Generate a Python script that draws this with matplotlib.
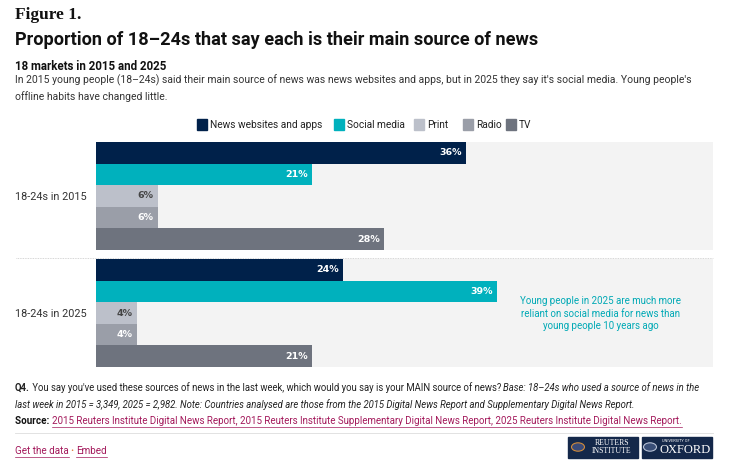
import matplotlib.pyplot as plt
from matplotlib.patches import Rectangle, Circle

plt.rcParams['font.family'] = ['Roboto', 'DejaVu Sans']

# data
groups = ['18-24s in 2015', '18-24s in 2025']
sources = ['News websites and apps', 'Social media', 'Print', 'Radio', 'TV']
values_2015 = [36, 21, 6, 6, 28]
values_2025 = [24, 39, 4, 4, 21]
colors = ['#00214a', '#00b1bd', '#bcc0ca', '#9a9ea8', '#6e737e']
label_colors = ['white', 'white', '#444444', 'white', 'white']
xmax = 60

fig = plt.figure(figsize=(7.32, 4.72), dpi=100)
W, H = 732, 472
renderer = fig.canvas.get_renderer()

def fx(px):
    return px / W

def fy(py):
    return 1 - py / H

def runs(x, y, parts, fontsize):
    # draw text pieces one after another on a line
    for txt, kw in parts:
        t = fig.text(fx(x), fy(y), txt, fontsize=fontsize, va='center', **kw)
        x += t.get_window_extent(renderer).width
    return x

ax = fig.add_axes([fx(96), fy(367), fx(713) - fx(96), fy(142) - fy(367)])

gap = 0.42
centers = []
for g, vals in enumerate([values_2015, values_2025]):
    start = g * (5 + gap)
    # grey band behind each group
    ax.barh(start + 2.5, xmax, height=5, left=0, color='#f3f3f3', zorder=0)
    for i, v in enumerate(vals):
        y = start + i + 0.5
        ax.barh(y, v, height=1.0, color=colors[i], zorder=2)
        ax.annotate(f'{v}%', (v, y), xytext=(-3, 0), textcoords='offset points',
                    ha='right', va='center', fontsize=6.8, fontweight='bold',
                    family='DejaVu Sans', color=label_colors[i], zorder=3)
    centers.append(start + 2.5)

ax.set_xlim(0, xmax)
ax.set_ylim(10 + gap, 0)
ax.set_yticks(centers)
ax.set_yticklabels(groups, fontsize=7.8, color='#333333')
ax.tick_params(axis='y', length=0, pad=7)
ax.set_xticks([])
for s in ax.spines.values():
    s.set_visible(False)

# dotted separator between groups
ax.plot([-7.8, xmax], [5 + gap * 0.9, 5 + gap * 0.9], ls=(0, (1, 1)), lw=0.6,
        color='#c8c8c8', clip_on=False)

ax.text(49.1, 7.95, 'Young people in 2025 are much more\nreliant on social media for news than\nyoung people 10 years ago',
        ha='center', va='center', fontsize=7, color='#00a9b5', linespacing=1.35)

# legend
lx = [197, 334, 414, 463, 506]
for i, name in enumerate(sources):
    fig.patches.append(Rectangle((fx(lx[i]), fy(130)), fx(10), 11 / H,
                                 transform=fig.transFigure, color=colors[i]))
    fig.text(fx(lx[i] + 13), fy(125), name, fontsize=7.3, color='#222222', va='center')

# header
fig.text(fx(15), fy(15), 'Figure 1.', fontsize=12.5, fontweight='bold',
         family='Liberation Serif', va='center', color='#111111')
fig.text(fx(15), fy(40), 'Proportion of 18\u201324s that say each is their main source of news',
         fontsize=13.1, fontweight='bold', va='center', color='#111111')
fig.text(fx(15), fy(66), '18 markets in 2015 and 2025', fontsize=8.3,
         fontweight='bold', va='center', color='#111111')
fig.text(fx(15), fy(80), "In 2015 young people (18\u201324s) said their main source of news was news websites and apps, but in 2025 they say it's social media. Young people's",
         fontsize=7.5, va='center', color='#333333')
fig.text(fx(15), fy(97), 'offline habits have changed little.',
         fontsize=7.5, va='center', color='#333333')

# footnotes
runs(15, 388, [('Q4.', dict(fontweight='bold', color='#222222')),
               (" You say you've used these sources of news in the last week, which would you say is your MAIN source of news? ",
                dict(color='#222222')),
               ('Base: 18\u201324s who used a source of news in the', dict(style='italic', color='#222222'))], 6.85)
fig.text(fx(15), fy(405), 'last week in 2015 = 3,349, 2025 = 2,982. Note: Countries analysed are those from the 2015 Digital News Report and Supplementary Digital News Report.',
         fontsize=6.85, va='center', style='italic', color='#222222')
x_end = runs(15, 421, [('Source: ', dict(fontweight='bold', color='#111111'))], 7.1)
x_link = runs(x_end, 421, [('2015 Reuters Institute Digital News Report, 2015 Reuters Institute Supplementary Digital News Report, 2025 Reuters Institute Digital News Report.',
                            dict(color='#a3195b'))], 7.0)
fig.add_artist(plt.Line2D([fx(x_end), fx(x_link)], [fy(427), fy(427)], lw=0.5, color='#a3195b'))
fig.add_artist(plt.Line2D([fx(15), fx(713)], [fy(433), fy(433)], lw=0.6, color='#dddddd'))

x1 = runs(15, 451, [('Get the data', dict(color='#a3195b'))], 7.1)
x2 = runs(x1, 451, [(' \u2022 ', dict(color='#e07a3a'))], 6.0)
x3 = runs(x2, 451, [('Embed', dict(color='#a3195b'))], 7.1)
fig.add_artist(plt.Line2D([fx(15), fx(x1)], [fy(457), fy(457)], lw=0.5, color='#a3195b'))
fig.add_artist(plt.Line2D([fx(x2), fx(x3)], [fy(457), fy(457)], lw=0.5, color='#a3195b'))

# logo boxes
for x0 in [568, 642]:
    fig.patches.append(Rectangle((fx(x0), fy(458)), fx(70), 21 / H,
                                 transform=fig.transFigure, color='#14284a'))
fig.text(fx(612), fy(447), 'REUTERS\nINSTITUTE', fontsize=5.6, family='Liberation Serif',
         color='white', ha='center', va='center', linespacing=0.95)
fig.text(fx(676), fy(441), 'UNIVERSITY OF', fontsize=2.8, color='white', ha='center', va='center')
fig.text(fx(685), fy(450), 'OXFORD', fontsize=9, family='Liberation Serif',
         color='white', ha='center', va='center')
fig.patches.append(Circle((fx(578), fy(447)), 6.5 / W, transform=fig.transFigure,
                          fc='#3a4a78', ec='#d08a3a', lw=0.8))
fig.patches.append(Circle((fx(650), fy(447)), 6.5 / W, transform=fig.transFigure,
                          fc='#3a4f78', ec='#b8c2d6', lw=0.8))

fig.savefig('out.png', dpi=100)
